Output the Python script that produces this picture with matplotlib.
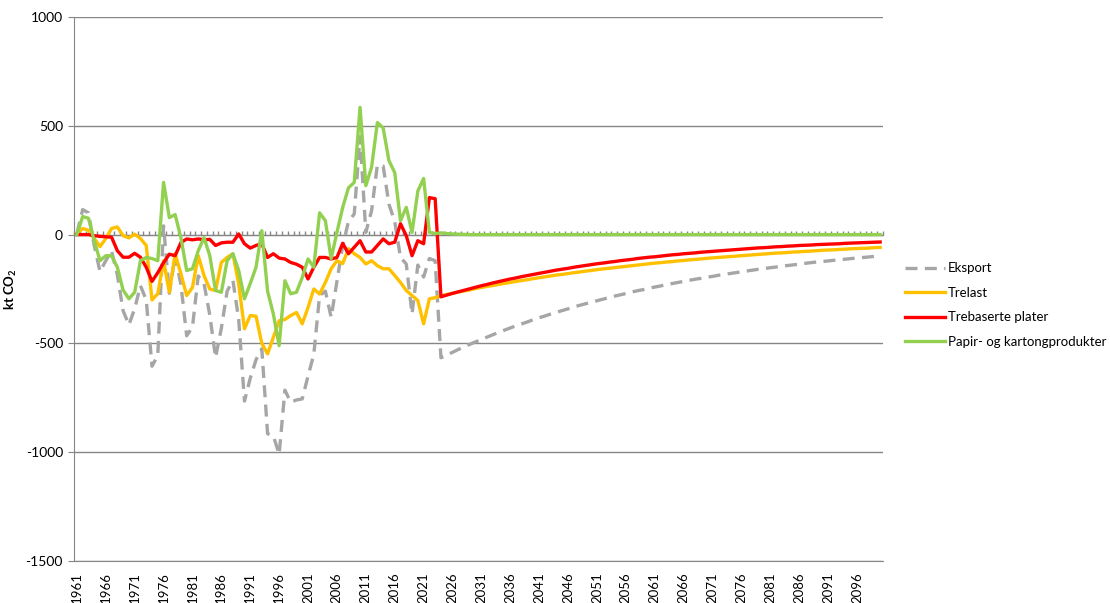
import numpy as np
import matplotlib
matplotlib.use("Agg")
import matplotlib.pyplot as plt

plt.rcParams['font.family'] = ['Lato', 'DejaVu Sans']
plt.rcParams['mathtext.fontset'] = 'custom'
plt.rcParams['mathtext.rm'] = 'Lato'
plt.rcParams['mathtext.bf'] = 'Lato:bold'
plt.rcParams['axes.unicode_minus'] = False

# år 1961-2100
aar = np.arange(1961, 2101)

# historiske tall 1961-2023 (kt CO2)
trelast_hist = [5, 28, 20, -18, -55, -18, 28, 35, -5, -15,
                2, -18, -50, -300, -272, -120, -265, -88, -180, -280,
                -243, -97, -188, -250, -257, -128, -105, -88, -227, -433,
                -372, -375, -500, -548, -472, -396, -390, -372, -358, -410,
                -335, -250, -273, -220, -157, -120, -133, -65, -88, -105,
                -135, -120, -143, -157, -157, -188, -220, -257, -280, -303,
                -410, -295, -290]
plater_hist = [0, 0, 0, -5, -8, -10, -12, -74, -104, -104,
               -86, -104, -150, -215, -175, -129, -90, -97, -37, -20,
               -24, -20, -24, -22, -50, -38, -35, -35, 3, -42,
               -62, -50, -42, -105, -88, -108, -112, -128, -136, -150,
               -204, -150, -105, -105, -112, -105, -40, -88, -58, -28,
               -80, -80, -50, -20, -42, -35, 50, -5, -97, -28,
               -42, 170, 165]
papir_hist = [0, 83, 75, -28, -120, -97, -97, -150, -255, -295,
              -265, -120, -105, -110, -120, 240, 78, 92, -14, -165,
              -157, -74, -14, -97, -257, -265, -120, -88, -165, -295,
              -225, -150, 18, -260, -365, -510, -212, -272, -265, -197,
              -112, -150, 100, 64, -110, 10, 125, 215, 240, 585,
              225, 310, 515, 490, 340, 285, 64, 125, 10, 200,
              258, 10, 5]
eksport_hist = [5, 115, 100, -50, -170, -120, -75, -185, -350, -415,
                -340, -235, -300, -605, -555, 40, -270, -95, -230, -465,
                -425, -190, -225, -370, -565, -430, -260, -210, -390, -765,
                -660, -575, -525, -915, -925, -1010, -715, -770, -760, -755,
                -650, -550, -280, -260, -380, -215, -50, 60, 95, 450,
                10, 110, 320, 315, 140, 60, -105, -135, -365, -140,
                -195, -110, -120]

# framskrivning 2024-2100
trelast_proj = [-281, -275, -270, -264, -259, -254, -248, -243, -238, -234,
                -229, -224, -220, -215, -211, -207, -202, -198, -194, -190,
                -186, -183, -179, -175, -172, -168, -165, -161, -158, -155,
                -152, -149, -146, -143, -140, -137, -134, -131, -129, -126,
                -124, -121, -119, -116, -114, -112, -109, -107, -105, -103,
                -101, -99, -97, -95, -93, -91, -89, -87, -85, -84,
                -82, -80, -79, -77, -76, -74, -72, -71, -70, -68,
                -67, -65, -64, -63, -62, -60, -59]
plater_proj = [-286, -278, -270, -263, -256, -249, -242, -235, -229, -222,
               -216, -210, -204, -199, -193, -188, -183, -178, -173, -168,
               -163, -159, -155, -150, -146, -142, -138, -134, -131, -127,
               -124, -120, -117, -114, -110, -107, -104, -102, -99, -96,
               -93, -91, -88, -86, -84, -81, -79, -77, -75, -73,
               -71, -69, -67, -65, -63, -61, -60, -58, -56, -55,
               -53, -52, -50, -49, -48, -46, -45, -44, -43, -42,
               -40, -39, -38, -37, -36, -35, -34]
papir_proj = [8, 5, 3, 2, 1] + [0] * 72
eksport_proj = [-566, -553, -541, -528, -516, -504, -493, -482, -471, -460,
                -449, -439, -429, -419, -410, -401, -391, -382, -374, -365,
                -357, -349, -341, -333, -325, -318, -311, -304, -297, -290,
                -283, -277, -271, -264, -258, -253, -247, -241, -236, -230,
                -225, -220, -215, -210, -205, -201, -196, -192, -187, -183,
                -179, -175, -171, -167, -163, -159, -156, -152, -149, -145,
                -142, -139, -136, -132, -129, -126, -124, -121, -118, -115,
                -113, -110, -108, -105, -103, -100, -98]

eksport = eksport_hist + eksport_proj
trelast = trelast_hist + trelast_proj
plater = plater_hist + plater_proj
papir = papir_hist + papir_proj

serier = ['Eksport', 'Trelast', 'Trebaserte plater', 'Papir- og kartongprodukter']
farger = ['#A6A6A6', '#FFC000', '#FF0000', '#92D050']
grid_farge = '#868686'

fig = plt.figure(figsize=(11.10, 6.03), dpi=100)
ax = fig.add_axes([74 / 1110, 1 - 561 / 603, 809 / 1110, 544 / 603])

linjer = []
for navn, verdier, farge in zip(serier, [eksport, trelast, plater, papir], farger):
    ln, = ax.plot(aar, verdier, color=farge, lw=2.4, label=navn, zorder=3)
    linjer.append(ln)
linjer[0].set_dashes((3.6, 2.2))

ax.set_xlim(1960.5, 2100.5)
ax.set_ylim(-1500, 1000)
ax.set_yticks([-1500, -1000, -500, 0, 500, 1000])
ax.set_xticks(aar[::5])
ax.set_xticklabels([str(a) for a in aar[::5]], rotation=90)
ax.yaxis.grid(True, color=grid_farge, lw=1)
ax.set_axisbelow(True)

for s in ['top', 'right']:
    ax.spines[s].set_visible(False)
ax.spines['left'].set_color(grid_farge)
ax.spines['bottom'].set_color(grid_farge)
ax.tick_params(axis='x', length=0, labelsize=9.5, pad=8)
ax.tick_params(axis='y', length=4, color=grid_farge, labelsize=10, pad=4)

# kategoriakse ved null med små streker for hvert år
null_akse = ax.secondary_xaxis(0.6)
null_akse.set_xticks(np.arange(1960.5, 2101, 1))
null_akse.tick_params(length=3, color=grid_farge, width=1,
                      labeltop=False, labelbottom=False)
for s in null_akse.spines.values():
    s.set_color(grid_farge)

ax.set_ylabel(r'kt CO$_\mathbf{2}$', fontweight='bold', fontsize=9.5)
ax.yaxis.set_label_coords(-0.068, 0.5)

fig.legend(handles=linjer, loc='center left', bbox_to_anchor=(905 / 1110, 1 - 305 / 603),
           frameon=False, fontsize=9.5, handlelength=3.0, handletextpad=0.25,
           labelspacing=0.95, borderpad=0, borderaxespad=0)

fig.savefig('out.png', dpi=100)
